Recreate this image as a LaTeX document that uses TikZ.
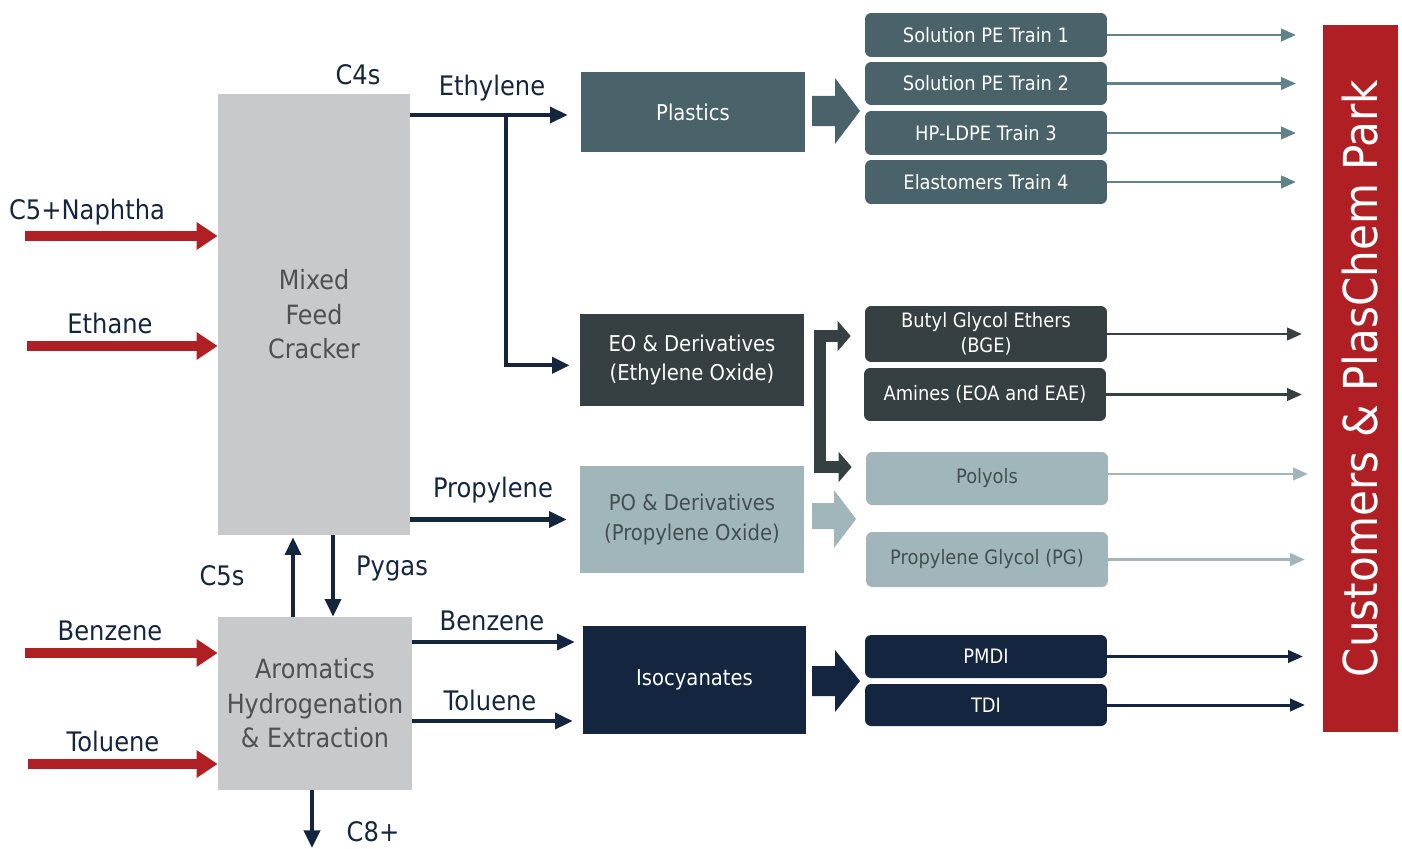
\documentclass[tikz,border=0pt]{standalone}
\usepackage{fontspec}
\setmainfont{DejaVu Sans}[FakeStretch=0.9]
\usetikzlibrary{arrows.meta,calc}
\definecolor{navy}{RGB}{20,38,63}
\definecolor{feedred}{RGB}{176,31,36}
\definecolor{crackgrey}{RGB}{200,201,203}
\definecolor{unittext}{RGB}{78,80,83}
\definecolor{plastic}{RGB}{74,98,105}
\definecolor{plasticline}{RGB}{96,130,138}
\definecolor{eogrey}{RGB}{54,63,66}
\definecolor{pogrey}{RGB}{160,182,186}
\definecolor{potext}{RGB}{68,78,82}

\begin{document}
\begin{tikzpicture}[x=0.02cm,y=-0.02cm,line join=miter,
  unitbox/.style={fill=crackgrey,text=unittext,align=center,inner sep=0pt,font=\fontsize{15.1}{19.6}\selectfont},
  prodbox/.style={align=center,inner sep=0pt,font=\fontsize{12.4}{17}\selectfont},
  derivbox/.style={rounded corners=3.5pt,align=center,inner sep=0pt,minimum width=4.84cm,font=\fontsize{11.3}{14}\selectfont},
  streamlbl/.style={text=navy,inner sep=1pt,font=\fontsize{15.3}{17}\selectfont},
  flow/.style={draw=navy,line width=2.3pt,-{Triangle[length=10pt,width=9pt]}},
  feed/.style={draw=feedred,line width=5.7pt,-{Triangle[length=12pt,width=15pt]}},
  outflow/.style={line width=1.7pt,-{Triangle[length=8.5pt,width=7pt]}},
  bracket/.style={draw=eogrey,line width=6.8pt,shorten >=0.28cm,-{Triangle[length=7.5pt,width=17pt]}},
]
  \useasboundingbox (0,0) rectangle (1402,848);
  % process units
  \node[unitbox,minimum width=3.84cm,minimum height=8.82cm] (cracker) at (314,314.5) {Mixed\\Feed\\Cracker};
  \node[unitbox,minimum width=3.88cm,minimum height=3.46cm] (arom) at (315,703.5) {Aromatics\\Hydrogenation\\\& Extraction};
  % products
  \node[prodbox,fill=plastic,text=white,minimum width=4.48cm,minimum height=1.6cm] (plastics) at (693,112) {Plastics};
  \node[prodbox,fill=eogrey,text=white,minimum width=4.48cm,minimum height=1.84cm] (eo) at (692,360) {EO \& Derivatives\\(Ethylene Oxide)};
  \node[prodbox,fill=pogrey,text=potext,minimum width=4.48cm,minimum height=2.14cm] (po) at (692,519.5) {PO \& Derivatives\\(Propylene Oxide)};
  \node[prodbox,fill=navy,text=white,minimum width=4.46cm,minimum height=2.16cm] (iso) at (694.5,680) {Isocyanates};
  % derivatives
  \node[derivbox,fill=plastic,text=white,minimum height=0.88cm] (pe1) at (986,35) {Solution PE Train 1};
  \node[derivbox,fill=plastic,text=white,minimum height=0.86cm] (pe2) at (986,83.5) {Solution PE Train 2};
  \node[derivbox,fill=plastic,text=white,minimum height=0.88cm] (pe3) at (986,133) {HP-LDPE Train 3};
  \node[derivbox,fill=plastic,text=white,minimum height=0.88cm] (pe4) at (986,182) {Elastomers Train 4};
  \node[derivbox,fill=eogrey,text=white,minimum height=1.12cm] (bge) at (986,334) {Butyl Glycol Ethers\\(BGE)};
  \node[derivbox,fill=eogrey,text=white,minimum height=1.06cm] (amines) at (985,394.5) {Amines (EOA and EAE)};
  \node[derivbox,fill=pogrey,text=potext,minimum height=1.06cm] (polyols) at (987,478.5) {Polyols};
  \node[derivbox,fill=pogrey,text=potext,minimum height=1.1cm] (pg) at (987,559.5) {Propylene Glycol (PG)};
  \node[derivbox,fill=navy,text=white,minimum height=0.86cm] (pmdi) at (986,656.5) {PMDI};
  \node[derivbox,fill=navy,text=white,minimum height=0.84cm] (tdi) at (986,705) {TDI};
  % customers
  \node[fill=feedred,text=white,rotate=90,minimum width=14.14cm,minimum height=1.5cm,inner sep=0pt,font=\fontsize{26.6}{27}\selectfont] (park) at (1360.5,378.5) {Customers \& PlasChem Park};
  % stream labels
  \node[streamlbl] (c4s) at (358,75) {C4s};
  \node[streamlbl] (ethylene) at (492,88) {Ethylene};
  \node[streamlbl] (propylene) at (493,490) {Propylene};
  \node[streamlbl] (c5s) at (222,576) {C5s};
  \node[streamlbl] (pygas) at (392,568) {Pygas};
  \node[streamlbl] (benzeneout) at (492,621) {Benzene};
  \node[streamlbl] (tolueneout) at (490,700) {Toluene};
  \node[streamlbl] (c8) at (373,832) {C8+};
  \node[streamlbl] (naphtha) at (87,212) {C5+Naphtha};
  \node[streamlbl] (ethane) at (110,323) {Ethane};
  \node[streamlbl] (benzenein) at (110,631) {Benzene};
  \node[streamlbl] (toluenein) at (113,741) {Toluene};
  % feeds
  \coordinate (naphthaIn) at (25,236);
  \coordinate (ethaneIn) at (27,346);
  \coordinate (benzeneIn) at (25,653);
  \coordinate (tolueneIn) at (28,764);
  \foreach \f in {naphthaIn,ethaneIn}
    \draw[feed] (\f) -- (\f -| cracker.west);
  \foreach \f in {benzeneIn,tolueneIn}
    \draw[feed] (\f) -- (\f -| arom.west);
  % cracker streams
  \coordinate (ethSplit) at (506,115);
  \draw[flow,shorten >=0.26cm] (cracker.east |- ethSplit) -- (plastics.west |- ethSplit);
  \draw[flow,shorten >=0.2cm] (ethSplit) |- ([yshift=-3pt]eo.west);
  \draw[flow,shorten >=0.26cm] (cracker.east |- po.west) -- (po.west);
  \draw[flow] (cracker.south -| 333,0) -- (arom.north -| 333,0);
  \draw[flow,shorten >=0.04cm] (arom.north -| 293,0) -- (cracker.south -| 293,0);
  % aromatics streams
  \draw[flow,shorten >=0.16cm] (arom.east |- 0,642) -- (iso.west |- 0,642);
  \draw[flow,shorten >=0.2cm] (arom.east |- 0,721) -- (iso.west |- 0,721);
  \coordinate (c8Out) at (312,848);
  \draw[flow] (arom.south -| c8Out) -- (c8Out);
  % block arrows
  \fill[plastic] (812,96) -- (835,96) -- (835,78) -- (860,111) -- (835,144) -- (835,126) -- (812,126) -- cycle;
  \fill[pogrey] (812,503) -- (834,503) -- (834,490) -- (856,519) -- (834,548) -- (834,529) -- (812,529) -- cycle;
  \fill[navy] (812,666) -- (835,666) -- (835,650) -- (860,681) -- (835,712) -- (835,696) -- (812,696) -- cycle;
  % EO bracket
  \coordinate (eoBar) at (820,336);
  \coordinate (eoBarLow) at (820,467);
  \draw[bracket] (eoBarLow) -- (eoBar) -- (bge.west |- eoBar);
  \draw[bracket] (eoBar) -- (eoBarLow) -- (polyols.west |- eoBarLow);
  % to customers
  \foreach \n in {pe1,pe2,pe3,pe4}
    \draw[outflow,draw=plasticline] (\n.east) -- (\n.east -| 1296,0);
  \foreach \n in {bge,amines}
    \draw[outflow,draw=eogrey] (\n.east) -- (\n.east -| 1302,0);
  \draw[outflow,draw=pogrey] (polyols.east |- 0,474) -- (1308,474);
  \draw[outflow,draw=pogrey] (pg.east) -- (pg.east -| 1305,0);
  \draw[outflow,draw=navy] (pmdi.east) -- (pmdi.east -| 1303,0);
  \draw[outflow,draw=navy] (tdi.east) -- (tdi.east -| 1305,0);
\end{tikzpicture}
\end{document}
